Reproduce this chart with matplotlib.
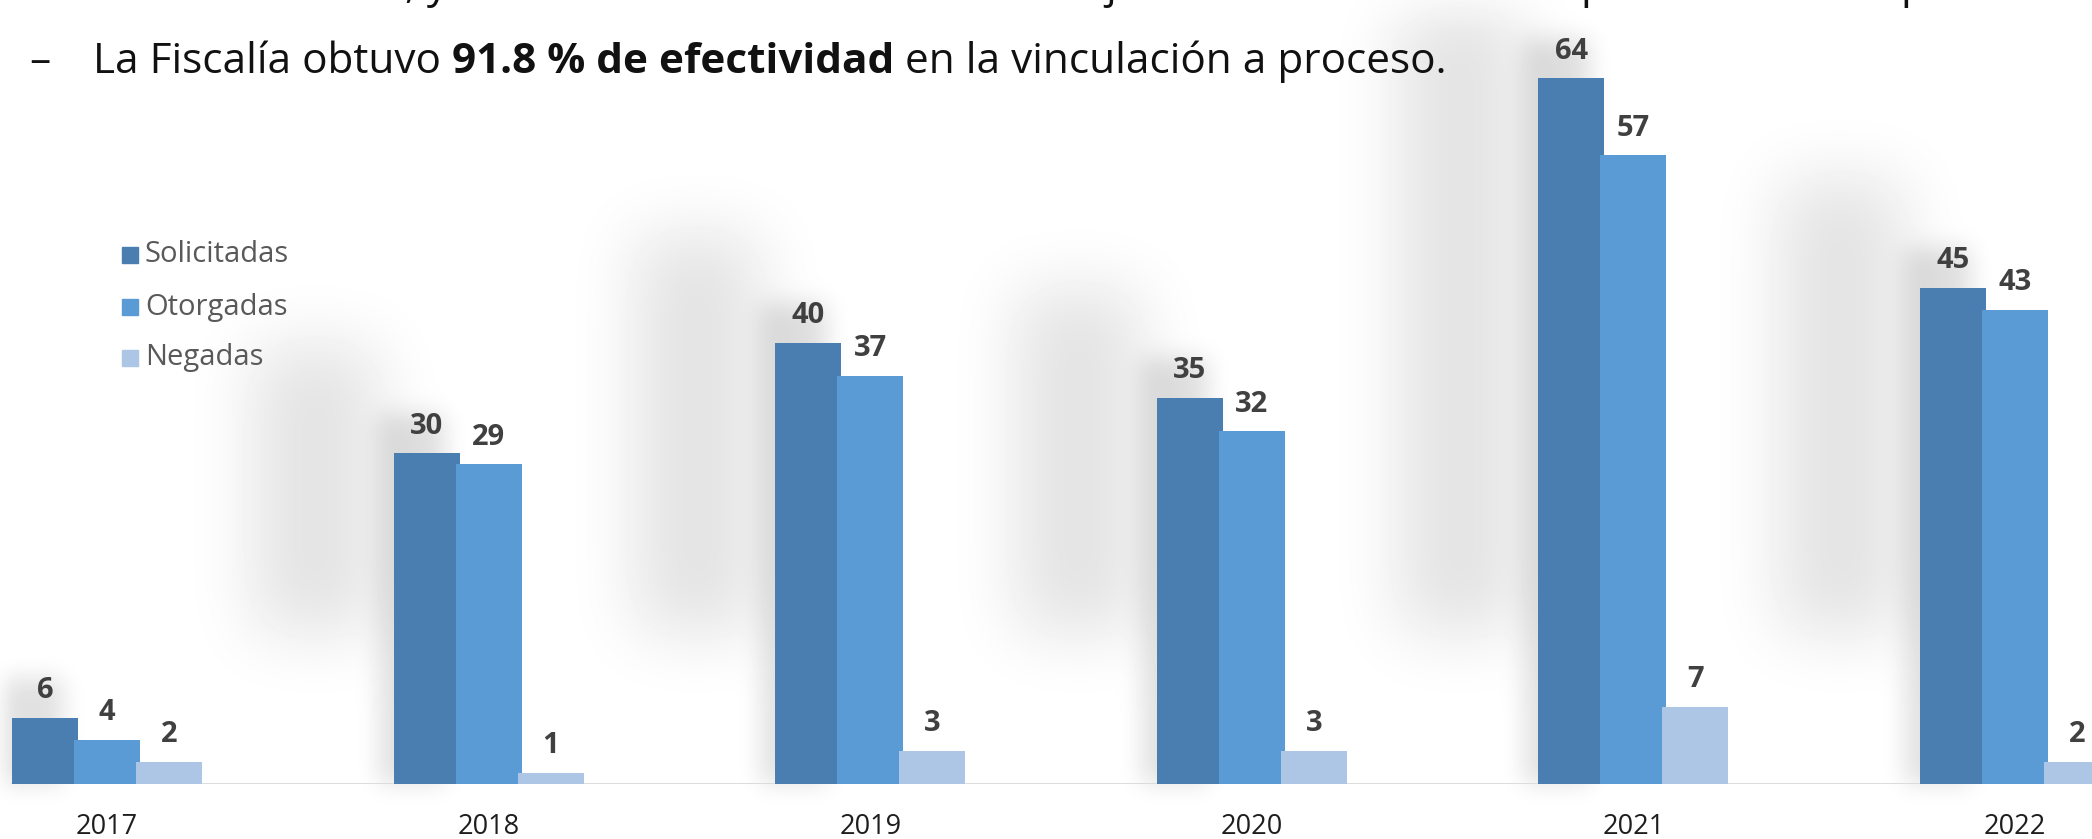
import numpy as np
import matplotlib.pyplot as plt
from matplotlib.patches import Rectangle

years = ['2017', '2018', '2019', '2020', '2021', '2022']
solicitadas = [6, 30, 40, 35, 64, 45]
otorgadas = [4, 29, 37, 32, 57, 43]
negadas = [2, 1, 3, 3, 7, 2]
series_names = ['Solicitadas', 'Otorgadas', 'Negadas']
colors = ['#4a7eb0', '#5b9bd5', '#adc6e6']

W, H = 2092, 839
plt.rcParams['font.family'] = ['Open Sans', 'DejaVu Sans']

fig = plt.figure(figsize=(W / 100, H / 100), dpi=100)
bg = fig.add_axes([0, 0, 1, 1], zorder=0)
ax = fig.add_axes([0, 55 / H, 1, 784 / H], zorder=1)
ax.patch.set_alpha(0)

x = np.arange(len(years))
step = 0.1625
width = 0.173
ax.set_xlim(-107 / 381.6, (W - 107) / 381.6)
ax.set_ylim(0, 784 / 11.03)

series = [solicitadas, otorgadas, negadas]
for k, (vals, name, c) in enumerate(zip(series, series_names, colors)):
    xs = x + (k - 1) * step
    ax.bar(xs, vals, width, color=c, label=name, zorder=2)
    for xi, v in zip(xs, vals):
        ax.annotate(str(v), (xi, v), xytext=(0, 9), textcoords='offset points',
                    ha='center', va='bottom', fontsize=21, fontweight='bold',
                    color='#404040', zorder=3)

# baseline
ax.plot([-0.249, ax.get_xlim()[1]], [0, 0], color='#d9d9d9', lw=2, zorder=1)
for s in ax.spines.values():
    s.set_visible(False)
ax.set_yticks([])
ax.set_xticks(x, years)
ax.tick_params(axis='x', length=0, pad=21, labelsize=19.5, labelcolor='#1e1e1e')


def blur1d(a, r, axis):
    a = np.moveaxis(a, axis, -1)
    p = np.pad(a, [(0, 0), (r + 1, r)])
    c = np.cumsum(p, axis=-1)
    out = (c[:, 2 * r + 1:] - c[:, :-2 * r - 1]) / (2 * r + 1)
    return np.moveaxis(out, -1, axis)


def blur(a, r, n=3):
    for _ in range(n):
        a = blur1d(a, r, 0)
        a = blur1d(a, r, 1)
    return a


# soft shadows behind the groups
shadow = np.zeros((H, W))
glow = np.zeros((H, W))
sol_x = x - step
for xi, v in zip(sol_x, solicitadas):
    (l, b), (r, t) = ax.transData.transform([(xi - width / 2, 0), (xi + width / 2, v)])
    l, r, b, t = int(l), int(r), int(b), int(t)
    y0, y1 = b + 150, min(H, t + 110)
    x0, x1 = max(0, l - 140), max(0, l - 15)
    if x1 > x0 and y1 > y0:
        shadow[y0:y1, x0:x1] = 0.11
    glow[b:min(H, t + 40), max(0, l - 14):max(0, r - 14)] = 0.12

img = 1 - np.clip(blur(shadow, 32) + blur(glow, 11), 0, 0.3)
bg.imshow(img, cmap='gray', vmin=0, vmax=1, extent=[0, W, 0, H], origin='lower',
          interpolation='bilinear', aspect='auto')
bg.set_xlim(0, W)
bg.set_ylim(0, H)
bg.axis('off')

# legend
leg_rows = [255, 307, 358]
for yy, name, c in zip(leg_rows, series_names, colors):
    fig.patches.append(Rectangle((122 / W, 1 - (yy + 8) / H), 16 / W, 16 / H,
                                 transform=fig.transFigure, color=c, zorder=5))
    fig.text(145 / W, 1 - yy / H, name, fontsize=21, color='#595959',
             va='center', ha='left', zorder=5)

# heading text, sized so it spans the same width as the reference line
rend = fig.canvas.get_renderer()
base_y = 1 - 73 / H
parts = [('La Fiscalía obtuvo ', 'normal'), ('91.8 % de efectividad', 'bold'),
         (' en la vinculación a proceso.', 'normal')]


def place(size):
    xpos = 93
    made = []
    for txt, wt in parts:
        t = fig.text(xpos / W, base_y, txt, fontsize=size, fontweight=wt,
                     color='#111111', va='baseline', ha='left')
        made.append(t)
        xpos += t.get_window_extent(renderer=rend).width
    return made, xpos


made, end = place(29)
size = 29 * (1445 - 93) / (end - 93)
for t in made:
    t.remove()
place(size)
fig.text(29 / W, base_y, '–', fontsize=size, color='#111111', va='baseline')

# descenders of the line above, cut by the top edge
for xx, frag in [(405, ', y'), (1105, 'j'), (1580, 'p'), (1900, 'p')]:
    fig.text(xx / W, 1 + 2 / H, frag, fontsize=size, color='#111111', va='baseline')

fig.savefig('out.png', dpi=100)
